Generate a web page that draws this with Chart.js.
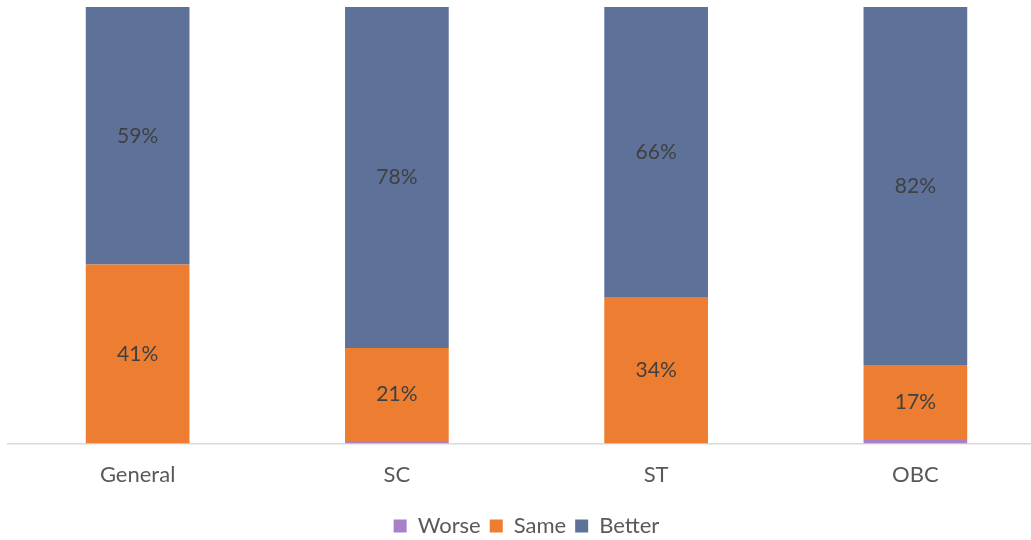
<!DOCTYPE html>
<html>
<head>
<meta charset="utf-8">
<script src="https://cdn.jsdelivr.net/npm/chart.js@4/dist/chart.umd.min.js"></script>
<style>
html,body{margin:0;padding:0;background:#fff;overflow:hidden;}
#wrap{position:absolute;left:0;top:0;width:1045px;height:547px;}
</style>
</head>
<body>
<div id="wrap"><canvas id="c"></canvas></div>
<script>
const categories = ["General", "SC", "ST", "OBC"];
const worse  = [0, 0.6, 0, 0.8];
const same   = [41, 21.3, 33.6, 17.2];
const better = [59, 78.1, 66.4, 82.0];

const labelPlugin = {
  id: 'segLabels',
  afterDatasetsDraw(chart) {
    const ctx = chart.ctx;
    ctx.save();
    ctx.font = '21px Lato, "Open Sans", sans-serif';
    ctx.fillStyle = '#404040';
    ctx.textAlign = 'center';
    ctx.textBaseline = 'middle';
    chart.data.datasets.forEach((ds, di) => {
      if (ds.label === 'Worse') return;
      const meta = chart.getDatasetMeta(di);
      meta.data.forEach((bar, i) => {
        const v = ds.data[i];
        if (!v) return;
        const p = bar.getProps(['x', 'y', 'base'], true);
        ctx.fillText(Math.round(v) + '%', p.x, (p.y + p.base) / 2);
      });
    });
    ctx.restore();
  }
};

new Chart(document.getElementById('c'), {
  type: 'bar',
  data: {
    labels: categories,
    datasets: [
      { label: 'Worse', data: worse, backgroundColor: '#A980C8' },
      { label: 'Same', data: same, backgroundColor: '#ED7D31' },
      { label: 'Better', data: better, backgroundColor: '#5D7199' }
    ]
  },
  options: {
    responsive: true,
    maintainAspectRatio: false,
    animation: false,
    layout: { padding: { left: 8, right: 0, top: 7, bottom: 0 } },
    datasets: { bar: { barPercentage: 0.4, categoryPercentage: 1.0 } },
    scales: {
      x: {
        stacked: true,
        grid: { display: false, drawTicks: false },
        border: { color: '#D9D9D9', width: 1.5 },
        ticks: { color: '#595959', font: { size: 22, family: 'Lato, "Open Sans", sans-serif' }, padding: 18 }
      },
      y: {
        stacked: true,
        display: false,
        min: 0, max: 100
      }
    },
    plugins: {
      tooltip: { enabled: false },
      legend: {
        position: 'bottom',
        align: 'center',
        labels: {
          boxWidth: 13, boxHeight: 13,
          color: '#595959',
          font: { size: 22, family: 'Lato, "Open Sans", sans-serif' },
          padding: 9
        }
      }
    }
  },
  plugins: [labelPlugin]
});
</script>
</body>
</html>
